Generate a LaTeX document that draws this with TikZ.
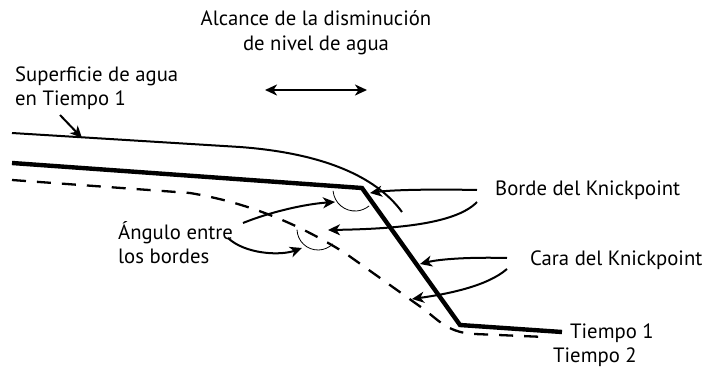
\documentclass[tikz,border=0pt]{standalone}
\usepackage{fontspec}
\setmainfont{PT Sans}
\usetikzlibrary{arrows.meta}
\begin{document}
\begin{tikzpicture}[x=1pt,y=-1pt,
  lbl/.style={inner sep=0pt,anchor=base west,align=left,font=\fontsize{20.7}{23.5}\selectfont},
  water/.style={line width=2pt},
  bed/.style={line width=4.4pt,line join=miter},
  bednew/.style={line width=2.3pt,dash pattern=on 14pt off 11pt},
  ktip/.tip={Stealth[length=12pt,width=11pt,inset=3.5pt]},
  pointer/.style={line width=2pt,-ktip},
  anglearc/.style={line width=0.8pt}]
\useasboundingbox (0,0) rectangle (705,370);

% labels (two-line labels are placed by the baseline of their last line)
\node[lbl,anchor=base] (alc) at (316,25) {Alcance de la disminución};
\node[lbl,anchor=base] (alc2) at (316,50) {de nivel de agua};
\node[lbl] (sup) at (15,105) {Superficie de agua\\en Tiempo 1};
\node[lbl] (borde) at (495,195) {Borde del Knickpoint};
\node[lbl] (cara) at (530,265) {Cara del Knickpoint};
\node[lbl] (ang) at (118,263) {Ángulo entre\\los bordes};
\node[lbl] (t1) at (570,338) {Tiempo 1};
\node[lbl] (t2) at (553,362) {Tiempo 2};

% profile points
\coordinate (wA) at (12,133);
\coordinate (wB) at (240,147);
\coordinate (wC) at (402,212);
\coordinate (bA) at (12,163);
\coordinate (kp) at (362,188);
\coordinate (kb) at (460,325);
\coordinate (bE) at (562,332);

% water surface at time 1
\draw[water] (wA) -- (wB) .. controls (320,153) and (375,175) .. (wC);
% bed at time 1
\draw[bed] (bA) -- (kp) -- (kb) -- (bE);
% bed at time 2
\draw[bednew] (12,180) -- (190,193) .. controls (250,203) and (300,225) .. (345,253)
  -- (425,310) .. controls (440,322) and (450,333) .. (475,334) -- (545,337);

% angles between the edges
\draw[anglearc] (355,189) ++(175:22) arc[start angle=175,end angle=50,radius=22];
\draw[anglearc] (318,229) ++(178:21) arc[start angle=178,end angle=45,radius=21];

% reach of the drawdown
\coordinate (rL) at (265,90);
\coordinate (rR) at (367,90);
\draw[line width=2pt,ktip-ktip] (rL) -- (rR);

% pointers
\coordinate (s0) at (60,115);
\coordinate (s1) at (82,138);
\draw[pointer] (s0) -- (s1);

\coordinate (b0) at (477,190);
\coordinate (b1) at (370,193);
\draw[pointer] (b0) .. controls (430,189) and (390,190) .. (b1);
\coordinate (b2) at (477,202);
\coordinate (b3) at (328,230);
\draw[pointer] (b2) .. controls (455,225) and (390,229) .. (b3);

\coordinate (c0) at (507,258);
\coordinate (c1) at (420,264);
\draw[pointer] (c0) .. controls (470,257) and (440,259) .. (c1);
\coordinate (c2) at (507,269);
\coordinate (c3) at (412,299);
\draw[pointer] (c2) .. controls (485,288) and (440,295) .. (c3);

\coordinate (a0) at (243,223);
\coordinate (a1) at (335,202);
\draw[pointer] (a0) .. controls (270,212) and (305,204) .. (a1);
\coordinate (a2) at (228,238);
\coordinate (a3) at (302,248);
\draw[pointer] (a2) .. controls (245,254) and (280,256) .. (a3);
\end{tikzpicture}
\end{document}
